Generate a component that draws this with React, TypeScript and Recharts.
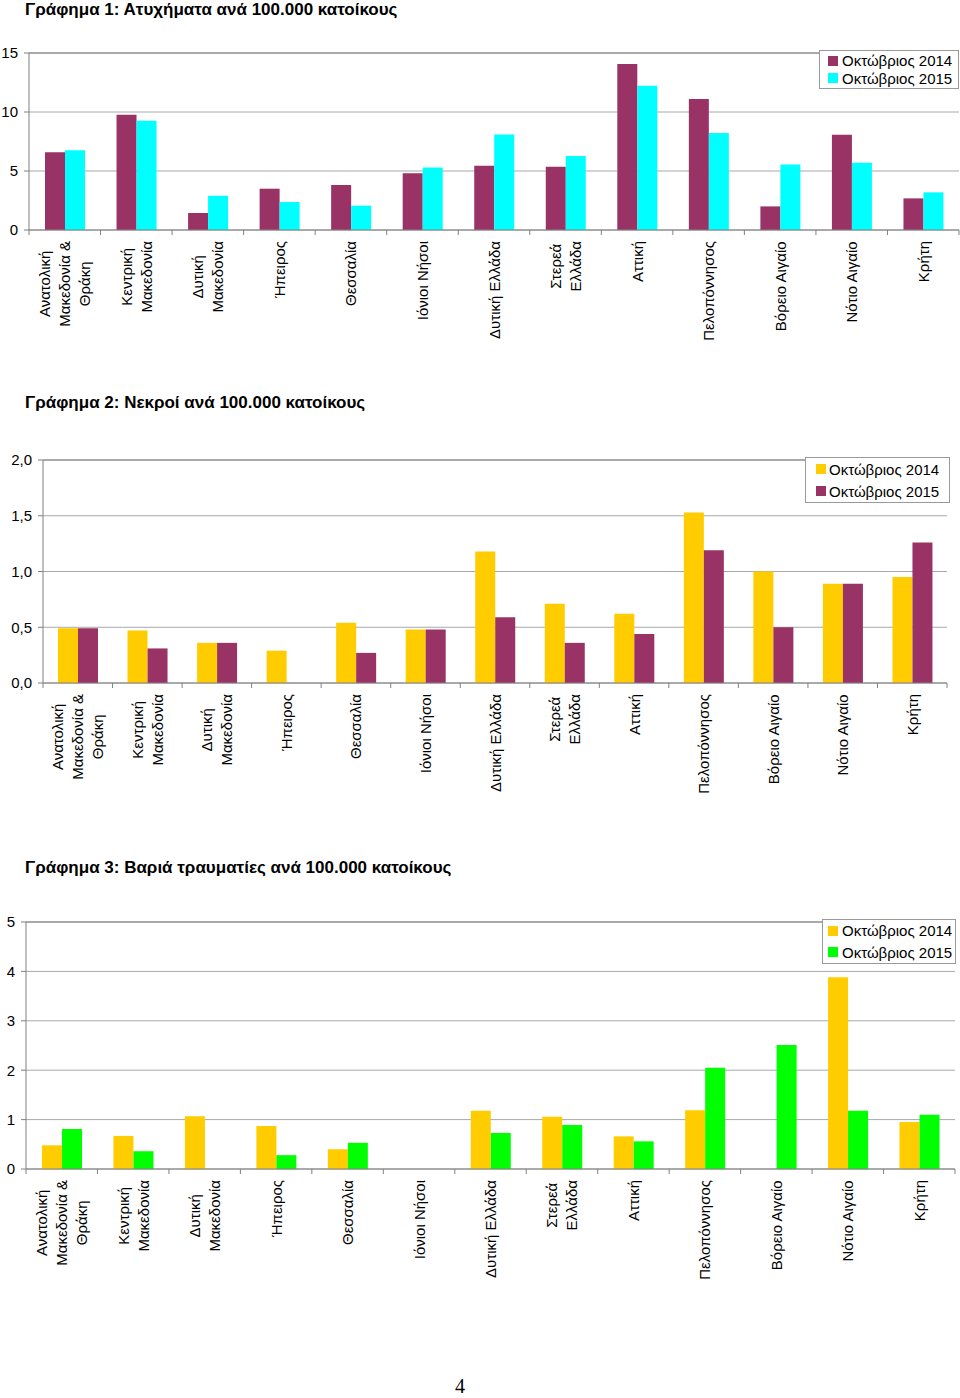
import { Bar, BarChart, CartesianGrid, Legend, ReferenceLine, XAxis, YAxis } from "recharts";

// regions, with manual line breaks for the rotated axis labels
const regions = [
  "Ανατολική\nΜακεδονία &\nΘράκη",
  "Κεντρική\nΜακεδονία",
  "Δυτική\nΜακεδονία",
  "Ήπειρος",
  "Θεσσαλία",
  "Ιόνιοι Νήσοι",
  "Δυτική Ελλάδα",
  "Στερεά\nΕλλάδα",
  "Αττική",
  "Πελοπόννησος",
  "Βόρειο Αιγαίο",
  "Νότιο Αιγαίο",
  "Κρήτη",
];

const accidents2014 = [6.58, 9.77, 1.44, 3.5, 3.81, 4.8, 5.45, 5.36, 14.07, 11.1, 2.0, 8.08, 2.68];
const accidents2015 = [6.75, 9.26, 2.9, 2.37, 2.06, 5.3, 8.1, 6.27, 12.23, 8.22, 5.56, 5.7, 3.19];

const deaths2014 = [0.49, 0.47, 0.36, 0.29, 0.54, 0.48, 1.18, 0.71, 0.62, 1.53, 1.0, 0.89, 0.95];
const deaths2015 = [0.49, 0.31, 0.36, 0, 0.27, 0.48, 0.59, 0.36, 0.44, 1.19, 0.5, 0.89, 1.26];

const injuries2014 = [0.48, 0.67, 1.07, 0.87, 0.4, 0, 1.18, 1.06, 0.66, 1.19, 0, 3.88, 0.95];
const injuries2015 = [0.81, 0.36, 0, 0.28, 0.53, 0, 0.73, 0.89, 0.56, 2.05, 2.51, 1.18, 1.1];

const seriesNames = ["Οκτώβριος 2014", "Οκτώβριος 2015"];

const accidentTicks = [0, 5, 10, 15];
const deathTicks = [0, 0.5, 1, 1.5, 2];
const injuryTicks = [0, 1, 2, 3, 4, 5];

const FONT = '"Liberation Sans", Arial, Helvetica, sans-serif';
const AXIS = "#808080";
const GRID = "#a8a8a8";
const LABEL_PX = 15;
const LINE_H = 20;

let ctx: CanvasRenderingContext2D | null = null;
function textWidth(s: string) {
  if (!ctx) ctx = document.createElement("canvas").getContext("2d");
  if (!ctx) return s.length * 8;
  ctx.font = `${LABEL_PX}px ${FONT}`;
  return ctx.measureText(s).width;
}

function RegionTick(props: any) {
  const { x, payload, index, plotBottom, band } = props;
  const lines = String(payload.value).split("\n");
  const maxW = Math.max(...lines.map(textWidth));
  return (
    <g>
      <line x1={x + band / 2} x2={x + band / 2} y1={plotBottom} y2={plotBottom + 5} stroke={AXIS} />
      {index === 0 && <line x1={x - band / 2} x2={x - band / 2} y1={plotBottom} y2={plotBottom + 5} stroke={AXIS} />}
      <g transform={`translate(${x},${plotBottom + 11}) rotate(-90)`}>
        {lines.map((l, i) => (
          <text
            key={i}
            x={-maxW / 2}
            y={(i - (lines.length - 1) / 2) * LINE_H}
            textAnchor="middle"
            dominantBaseline="central"
            fontSize={LABEL_PX}
            fill="#000"
          >
            {l}
          </text>
        ))}
      </g>
    </g>
  );
}

interface LegendBox {
  left: number;
  top: number;
  width: number;
  rowH: number;
  padTop: number;
  padLeft: number;
  gap: number;
}

interface ChartProps {
  top: number;
  height: number;
  plotTop: number;
  plotLeft: number;
  plotRight: number;
  v2014: number[];
  v2015: number[];
  colors: [string, string];
  ticks: number[];
  fmt?: (v: number) => string;
  legend: LegendBox;
}

function RegionChart({ top, height, plotTop, plotLeft, plotRight, v2014, v2015, colors, ticks, fmt, legend }: ChartProps) {
  const data = regions.map((r, i) => ({ region: r, a: v2014[i], b: v2015[i] }));
  const xHeight = 130;
  const plotBottom = height - xHeight;
  const band = (plotRight - plotLeft) / regions.length;
  const max = ticks[ticks.length - 1];
  return (
    <div style={{ position: "absolute", left: 0, top }}>
      <BarChart
        width={960}
        height={height}
        data={data}
        margin={{ top: plotTop, left: 0, right: 960 - plotRight, bottom: 0 }}
        barGap={0}
        barSize={20}
      >
        <CartesianGrid vertical={false} stroke={GRID} />
        <XAxis
          dataKey="region"
          interval={0}
          height={xHeight}
          tickLine={false}
          axisLine={{ stroke: AXIS }}
          tick={(p: any) => <RegionTick {...p} plotBottom={plotBottom} band={band} />}
        />
        <YAxis
          width={plotLeft}
          domain={[0, max]}
          ticks={ticks}
          tickFormatter={fmt}
          tickSize={5}
          tickMargin={6}
          axisLine={{ stroke: AXIS }}
          tickLine={{ stroke: AXIS }}
          tick={{ fill: "#000", fontSize: LABEL_PX }}
          interval={0}
        />
        <YAxis yAxisId="frame" orientation="right" width={0} domain={[0, max]} tick={false} tickLine={false} axisLine={{ stroke: AXIS }} />
        <ReferenceLine y={max} stroke={AXIS} />
        <Legend
          layout="vertical"
          align="center"
          verticalAlign="middle"
          wrapperStyle={{ left: legend.left, top: legend.top, width: legend.width, bottom: "auto", right: "auto" }}
          content={(lp: any) => (
            <div
              style={{
                border: "1px solid #999",
                background: "#fff",
                paddingTop: legend.padTop,
                paddingBottom: legend.padTop,
                paddingLeft: legend.padLeft,
                boxSizing: "border-box",
                width: legend.width,
              }}
            >
              {(lp.payload || []).map((e: any) => (
                <div key={e.value} style={{ display: "flex", alignItems: "center", height: legend.rowH, fontSize: LABEL_PX, whiteSpace: "nowrap" }}>
                  <span style={{ width: 10, height: 10, background: e.color, marginRight: legend.gap, display: "inline-block" }} />
                  {e.value}
                </div>
              ))}
            </div>
          )}
        />
        <Bar dataKey="a" name={seriesNames[0]} fill={colors[0]} isAnimationActive={false} />
        <Bar dataKey="b" name={seriesNames[1]} fill={colors[1]} isAnimationActive={false} />
      </BarChart>
    </div>
  );
}

const titleStyle = (top: number): React.CSSProperties => ({
  position: "absolute",
  left: 25,
  top,
  fontFamily: FONT,
  fontWeight: "bold",
  fontSize: 17,
  lineHeight: "19px",
  whiteSpace: "nowrap",
});

export default function App() {
  return (
    <div style={{ position: "absolute", left: 0, top: 0, width: 960, height: 1398, background: "#fff", fontFamily: FONT, overflow: "hidden" }}>
      <div style={titleStyle(0)}>Γράφημα 1: Ατυχήματα ανά 100.000 κατοίκους</div>
      <RegionChart
        top={0}
        height={360}
        plotTop={53}
        plotLeft={29}
        plotRight={959}
        v2014={accidents2014}
        v2015={accidents2015}
        colors={["#993366", "#00ffff"]}
        ticks={accidentTicks}
        legend={{ left: 819, top: 50, width: 140, rowH: 17.6, padTop: 1, padLeft: 8, gap: 4 }}
      />

      <div style={titleStyle(393)}>Γράφημα 2: Νεκροί ανά 100.000 κατοίκους</div>
      <RegionChart
        top={395}
        height={418}
        plotTop={65}
        plotLeft={43}
        plotRight={947}
        v2014={deaths2014}
        v2015={deaths2015}
        colors={["#ffcc00", "#993366"]}
        ticks={deathTicks}
        fmt={(v) => v.toFixed(1).replace(".", ",")}
        legend={{ left: 805, top: 62, width: 145, rowH: 22, padTop: 0, padLeft: 10, gap: 3 }}
      />

      <div style={titleStyle(858)}>Γράφημα 3: Βαριά τραυματίες ανά 100.000 κατοίκους</div>
      <RegionChart
        top={880}
        height={419}
        plotTop={42}
        plotLeft={26}
        plotRight={955}
        v2014={injuries2014}
        v2015={injuries2015}
        colors={["#ffcc00", "#00ff00"]}
        ticks={injuryTicks}
        legend={{ left: 822, top: 39, width: 134, rowH: 21.6, padTop: 0, padLeft: 5, gap: 4 }}
      />

      <div style={{ position: "absolute", left: 455, top: 1375, fontFamily: '"Liberation Serif", serif', fontSize: 20 }}>4</div>
    </div>
  );
}
